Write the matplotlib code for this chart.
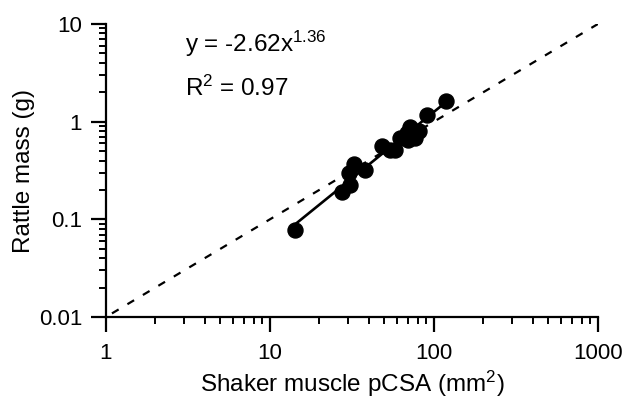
import numpy as np
import matplotlib
matplotlib.use("Agg")
import matplotlib.pyplot as plt
from matplotlib.ticker import LogLocator, FuncFormatter, NullFormatter

plt.rcParams['font.family'] = ['Liberation Sans', 'DejaVu Sans']
plt.rcParams['mathtext.fontset'] = 'custom'
plt.rcParams['mathtext.rm'] = 'Liberation Sans'
plt.rcParams['mathtext.it'] = 'Liberation Sans'

# pCSA (mm^2) and rattle mass (g)
pcsa = [14.3, 27.5, 30.9, 30.2, 32.4, 38.2, 48.3, 54.3, 58.2, 62.5,
        68.7, 71.9, 77.2, 80.9, 70.0, 91.0, 118.0]
mass = [0.078, 0.19, 0.225, 0.297, 0.37, 0.32, 0.56, 0.515, 0.51, 0.68,
        0.77, 0.88, 0.68, 0.80, 0.65, 1.18, 1.62]

# power-law fit: log10(y) = -2.62 + 1.36 log10(x)
fit_intercept = -2.62
fit_slope = 1.36
# isometry reference line y = 0.01 x
iso_coef = 0.01
iso_range = [1.0, 1000.0]

fig = plt.figure(figsize=(6.3, 4.07), dpi=100)
ax = fig.add_axes([0.168, 0.221, 0.781, 0.720])

iso_x = np.array(iso_range)
ax.plot(iso_x, iso_coef * iso_x, color='black', lw=1.6,
        ls=(4.9, (3.5, 4.6)), zorder=1)

fx = np.array([min(pcsa), max(pcsa)])
ax.plot(fx, 10 ** fit_intercept * fx ** fit_slope, color='black', lw=1.9, zorder=2)
ax.plot(pcsa, mass, 'o', color='black', ms=10.8, zorder=3)

ax.set_xscale('log')
ax.set_yscale('log')
ax.set_xlim(1, 1000)
ax.set_ylim(0.01, 10)

fmt = FuncFormatter(lambda v, p: f'{v:g}')
ax.xaxis.set_major_locator(LogLocator(base=10, numticks=10))
ax.yaxis.set_major_locator(LogLocator(base=10, numticks=10))
ax.xaxis.set_major_formatter(fmt)
ax.yaxis.set_major_formatter(fmt)
ax.xaxis.set_minor_locator(LogLocator(base=10, subs=np.arange(2, 10), numticks=20))
ax.yaxis.set_minor_locator(LogLocator(base=10, subs=np.arange(2, 10), numticks=20))
ax.xaxis.set_minor_formatter(NullFormatter())
ax.yaxis.set_minor_formatter(NullFormatter())

for s in ['top', 'right']:
    ax.spines[s].set_visible(False)
for s in ['left', 'bottom']:
    ax.spines[s].set_linewidth(1.6)
ax.tick_params(which='major', direction='out', length=11, width=1.6, labelsize=16)
ax.tick_params(which='minor', direction='out', length=5, width=1.4)
ax.tick_params(axis='x', which='major', pad=8)
ax.tick_params(axis='y', which='major', pad=6)

ax.set_xlabel('Shaker muscle pCSA (mm$^2$)', fontsize=17.5, labelpad=3)
ax.set_ylabel('Rattle mass (g)', fontsize=17.5, labelpad=3)

ax.text(0.161, 0.904, 'y = -2.62x$^{1.36}$', transform=ax.transAxes,
        fontsize=17.5, va='baseline', ha='left')
ax.text(0.161, 0.754, 'R$^2$ = 0.97', transform=ax.transAxes,
        fontsize=17.5, va='baseline', ha='left')

fig.savefig('out.png', dpi=100)
